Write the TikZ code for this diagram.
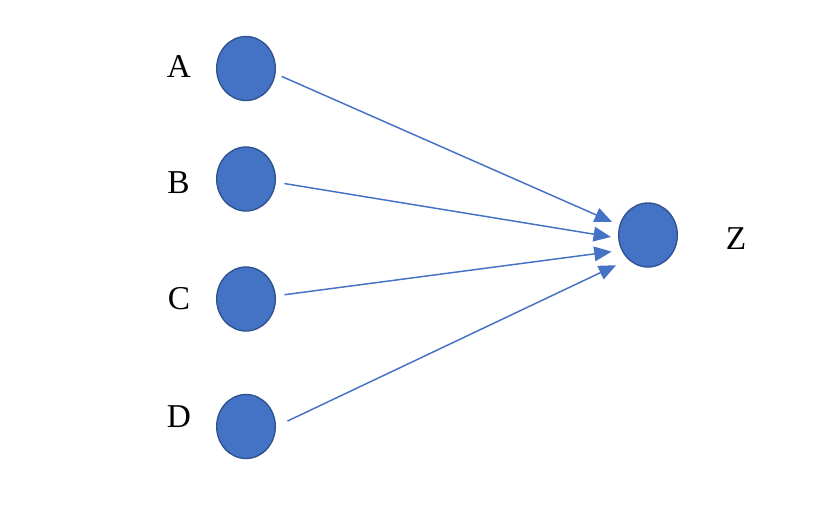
\documentclass[tikz,border=0pt]{standalone}
\usepackage{fontspec}
\setmainfont{Liberation Serif}
\usetikzlibrary{shapes.geometric,arrows.meta}
\definecolor{unitblue}{HTML}{4472C4}
\definecolor{unitedge}{HTML}{2F528F}
\tikzset{
	unit/.style={ellipse, draw=unitedge, line width=1pt, fill=unitblue, inner sep=0pt, minimum width=44pt, minimum height=48pt},
	link/.style={draw=unitblue, line width=1.1pt, -{Triangle[length=13pt,width=11pt]}},
	lbl/.style={inner sep=0pt, font=\fontsize{25}{30}\selectfont}
}

\begin{document}
\begin{tikzpicture}[x=0.75pt, y=-0.75pt]
			%%%%% START %%%%%
			\useasboundingbox (0, 0) rectangle (814, 522);
			
			\node[unit] (a) at (246, 68.5) {};
			\node[unit] (b) at (246, 179) {};
			\node[unit] (c) at (246, 299) {};
			\node[unit] (d) at (246, 426.5) {};
			\node[unit] (z) at (648, 235) {};
			
			\node[lbl] (la) at (179, 66) {A};
			\node[lbl] (lb) at (178.5, 183) {B};
			\node[lbl] (lc) at (179, 298.5) {C};
			\node[lbl] (ld) at (179, 417) {D};
			\node[lbl] (lz) at (736, 238.5) {Z};
			
			\draw[link, shorten <=5pt, shorten >=6pt] (a.-10) -- (z.161);
			\draw[link, shorten <=6.5pt, shorten >=5.5pt] (b.-6) -- (z.186);
			\draw[link, shorten <=6.5pt, shorten >=7.5pt] (c.6) -- (z.210);
			\draw[link, shorten <=9.5pt, shorten >=10pt] (d.east) -- (z.231);
			%%%%% END %%%%%
		\end{tikzpicture}
\end{document}
